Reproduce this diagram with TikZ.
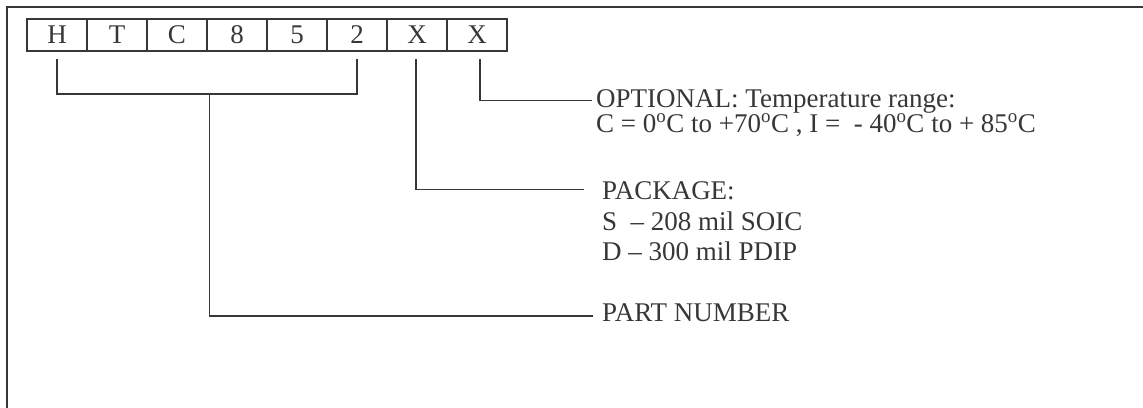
\documentclass[tikz,border=0pt]{standalone}
\usepackage{fontspec}
\setmainfont{Liberation Serif}
\definecolor{ink}{RGB}{55,55,55}
\tikzset{
  cell/.style={draw=ink, line width=1.5pt, minimum width=60pt, minimum height=32pt, inner sep=0pt, text=ink, font=\fontsize{27}{30}\selectfont},
  lbl/.style={anchor=base west, inner sep=0pt, text=ink, align=left},
  wire/.style={draw=ink, line width=1.5pt}
}
\newcommand{\dg}{\textsuperscript{o}}
\begin{document}
\begin{tikzpicture}[x=1pt,y=-1pt]
\useasboundingbox (0,0) rectangle (1143,407);
% outer frame
\draw[wire, line width=2pt] (7,420) -- (7,7) -- (1150,7);
% cells
\foreach \t [count=\i] in {H,T,C,8,5,2,X,X}
  \node[cell] (c\i) at (27+60*\i-30, 35) {\t};
% labels (base anchor = baseline of the last line)
\node[lbl, font=\fontsize{27}{23.5}\selectfont] (opt) at (596,132)
  {OPTIONAL: Temperature range:\\C = 0\dg C to +70\dg C , I =\ \ - 40\dg C to + 85\dg C};
\node[lbl, font=\fontsize{27}{30.7}\selectfont] (pk) at (602,260.7)
  {PACKAGE:\\S \ -- 208 mil SOIC\\D -- 300 mil PDIP};
\node[lbl, font=\fontsize{27}{30}\selectfont] (pn) at (602,321.7) {PART NUMBER};
% connector coordinates
\coordinate (hA) at (57,59);
\coordinate (hB) at (357,59);
\coordinate (hM) at (209.5,94);
\coordinate (x1) at (416,59);
\coordinate (x2) at (480,59);
\coordinate (eOpt) at (591.5,100.5);
\coordinate (ePk) at (583.5,189.5);
\coordinate (ePn) at (593,316);
% connectors
\draw[wire] (hA) |- (hB |- hM) -- (hB);
\draw[wire] (hM) |- (ePn);
\draw[wire] (x1) |- (ePk);
\draw[wire] (x2) |- (eOpt);
\end{tikzpicture}
\end{document}
